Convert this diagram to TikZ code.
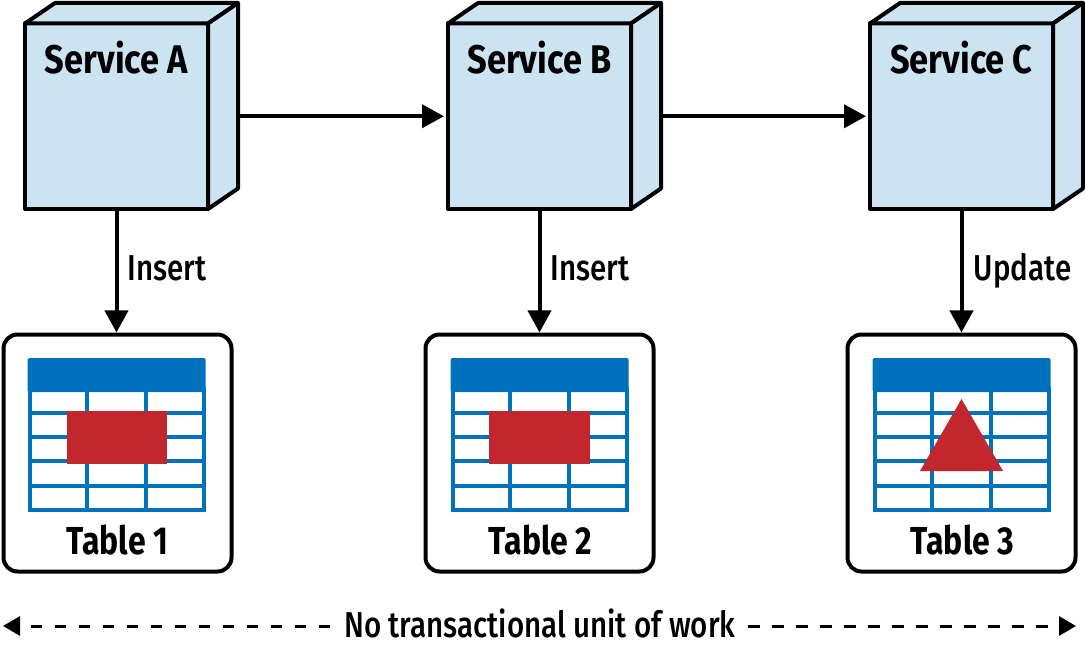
\documentclass[tikz,border=0pt]{standalone}
\usepackage{fontspec}
\setmainfont{Fira Sans}[FakeStretch=0.86]
\newfontfamily\labelfont{Fira Sans Medium}[FakeStretch=0.82]
\newfontfamily\cardfont{Fira Sans}[FakeStretch=0.82]
\usetikzlibrary{arrows.meta}
\definecolor{svcblue}{HTML}{CCE3F1}
\definecolor{tblblue}{HTML}{0071BC}
\definecolor{tblred}{HTML}{C1272D}
\tikzset{
  service/.style={draw=black,line width=4pt,fill=svcblue,minimum width=183pt,minimum height=185.5pt,inner sep=0pt,outer sep=0pt,line join=round},
  svcside/.style={draw=black,line width=4pt,fill=svcblue,line join=round},
  tablebox/.style={draw=black,line width=4pt,rounded corners=14pt,fill=white,minimum width=228pt,minimum height=237pt,inner sep=0pt,outer sep=0pt},
  flow/.style={draw=black,line width=4pt,-{Triangle[length=22pt,width=23pt]}},
  span/.style={draw=black,line width=3pt,dash pattern=on 11.5pt off 12.5pt,-{Triangle[length=17pt,width=19pt]}},
  svctitle/.style={font=\fontsize{40}{40}\selectfont\bfseries,inner sep=0pt,anchor=base},
  tbltitle/.style={font=\cardfont\fontsize{39}{39}\selectfont\bfseries,inner sep=0pt,anchor=base},
  edgelabel/.style={font=\labelfont\fontsize{36}{36}\selectfont,inner sep=0pt,anchor=base west},
  gridline/.style={draw=tblblue,line width=4pt},
  redmark/.style={fill=tblred,draw=none},
}
\newcommand{\servicebox}[3]{% name, center x, title
  \node[service] (#1) at (#2,116.25) {};
  \path[svcside] (#1.north west) -- ++(30,-20.5) -- ++(183,0) -- ++(-30,20.5) -- cycle;
  \path[svcside] (#1.north east) -- ++(30,-20.5) -- ++(0,185.5) -- ++(-30,20.5) -- cycle;
  \coordinate (#1side) at ([xshift=30pt]#1.east);
  \node[svctitle] (#1title) at (#2,73.5) {#3};
}
\newcommand{\tablecard}[4]{% name, center x, icon center x, title
  \node[tablebox] (#1) at (#2,453) {};
  \begin{scope}[shift={(#3,0)}]
    \fill[tblblue,rounded corners=1.5pt] (-89,358) rectangle (89,392);
    \draw[gridline] (-87,389) rectangle (87,510);
    \foreach \yy in {412.5,437,461,485.5} \draw[gridline] (-87,\yy) -- (87,\yy);
    \foreach \xx in {-29.5,29.5} \draw[gridline] (\xx,390) -- (\xx,510);
  \end{scope}
  \node[tbltitle] (#1title) at (#3+1,554.5) {#4};
}
\begin{document}
\begin{tikzpicture}[x=1pt,y=-1pt]
\useasboundingbox (0,0) rectangle (1085,647);
\servicebox{sa}{116.5}{Service A}
\servicebox{sb}{539.5}{Service B}
\servicebox{sc}{961.5}{Service C}
\tablecard{ta}{117.5}{116.5}{Table 1}
\tablecard{tb}{539.5}{539.5}{Table 2}
\tablecard{tc}{961.5}{961.5}{Table 3}
\fill[redmark] (66.5,410.5) rectangle (167,463.5);
\fill[redmark] (489,410.5) rectangle (589.5,463.5);
\fill[redmark] (961.5,399) -- (1003,471) -- (920,471) -- cycle;
\draw[flow,shorten >=4pt] (saside) -- (sb.west);
\draw[flow,shorten >=4pt] (sbside) -- (sc.west);
\draw[flow,shorten >=2pt] (sa.south) -- (sa.south |- ta.north);
\draw[flow,shorten >=2pt] (sb.south) -- (tb.north);
\draw[flow,shorten >=2pt] (sc.south) -- (tc.north);
\node[edgelabel] (la) at (127.5,280) {Insert};
\node[edgelabel] (lb) at (550.5,280) {Insert};
\node[edgelabel] (lc) at (973.5,280) {Update};
\node[font=\labelfont\fontsize{36}{36}\selectfont,inner sep=0pt,anchor=base] (span) at (540,637.5) {No transactional unit of work};
\coordinate (spanl) at (3,626);
\coordinate (spanr) at (1076,626);
\draw[span] (330,626) -- (spanl);
\draw[span] (748,626) -- (spanr);
\end{tikzpicture}
\end{document}
